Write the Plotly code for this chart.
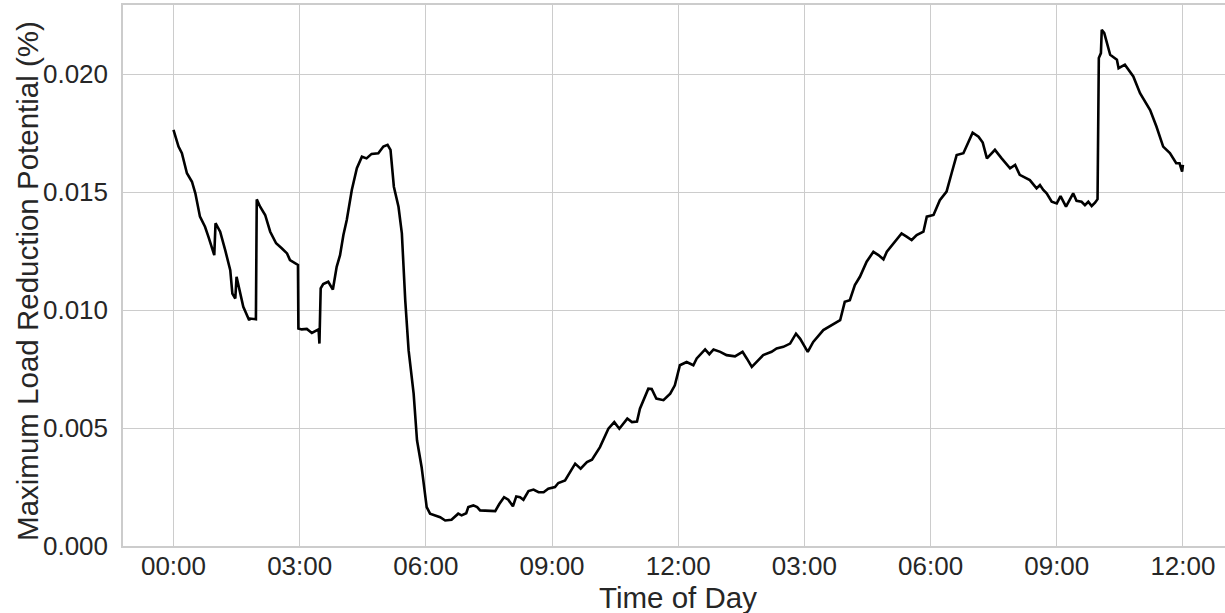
import plotly.graph_objects as go

# Time in hours since 00:00 and load reduction potential (%)
hours = [
    0.00, 0.12, 0.20, 0.32, 0.44, 0.52, 0.63, 0.75, 0.83, 0.97,
    1.00, 1.11, 1.23, 1.35, 1.40, 1.47, 1.50, 1.57, 1.66, 1.80,
    1.82, 1.96, 1.98, 2.06, 2.18, 2.30, 2.44, 2.58, 2.70, 2.77,
    2.96, 2.97, 3.05, 3.17, 3.29, 3.45, 3.47, 3.50, 3.56, 3.68,
    3.79, 3.88, 3.96, 4.04, 4.12, 4.24, 4.36, 4.48, 4.59, 4.71,
    4.87, 4.99, 5.09, 5.16, 5.24, 5.35, 5.43, 5.51, 5.59, 5.71,
    5.79, 5.90, 6.02, 6.10, 6.34, 6.46, 6.61, 6.77, 6.85, 6.96,
    7.01, 7.13, 7.22, 7.29, 7.49, 7.65, 7.75, 7.86, 7.96, 8.07,
    8.15, 8.24, 8.32, 8.44, 8.56, 8.68, 8.80, 8.91, 9.07, 9.15,
    9.31, 9.55, 9.68, 9.83, 9.95, 10.14, 10.34, 10.48, 10.60, 10.79,
    10.90, 11.02, 11.09, 11.29, 11.37, 11.48, 11.65, 11.81, 11.92, 12.04,
    12.20, 12.36, 12.44, 12.64, 12.74, 12.84, 13.00, 13.15, 13.35, 13.53,
    13.63, 13.75, 13.90, 14.02, 14.22, 14.34, 14.50, 14.66, 14.80, 14.90,
    15.08, 15.21, 15.45, 15.69, 15.85, 15.96, 16.08, 16.20, 16.32, 16.48,
    16.64, 16.76, 16.88, 16.96, 17.15, 17.31, 17.43, 17.55, 17.67, 17.83,
    17.91, 18.07, 18.22, 18.38, 18.50, 18.62, 18.78, 18.90, 19.00, 19.14,
    19.24, 19.34, 19.43, 19.53, 19.69, 19.89, 20.01, 20.12, 20.36, 20.52,
    20.60, 20.68, 20.76, 20.88, 21.00, 21.09, 21.22, 21.31, 21.39, 21.47,
    21.59, 21.67, 21.75, 21.83, 21.91, 21.97, 22.00, 22.05, 22.07, 22.13,
    22.27, 22.43, 22.47, 22.62, 22.82, 22.98, 23.22, 23.37, 23.53, 23.69,
    23.84, 23.92, 23.98, 24.00,
]

potential = [
    0.01764, 0.01693, 0.01665, 0.01580, 0.01544, 0.01495, 0.01396, 0.01353, 0.01311, 0.01233,
    0.01368, 0.01332, 0.01254, 0.01169, 0.01070, 0.01049, 0.01141, 0.01084, 0.01014, 0.00957,
    0.00964, 0.00961, 0.01469, 0.01438, 0.01403, 0.01332, 0.01283, 0.01261, 0.01240, 0.01212,
    0.01191, 0.00922, 0.00918, 0.00920, 0.00903, 0.00918, 0.00858, 0.01092, 0.01110, 0.01120,
    0.01087, 0.01183, 0.01233, 0.01318, 0.01382, 0.01509, 0.01601, 0.01650, 0.01643, 0.01662,
    0.01665, 0.01693, 0.01700, 0.01679, 0.01523, 0.01438, 0.01325, 0.01042, 0.00830, 0.00646,
    0.00448, 0.00334, 0.00165, 0.00137, 0.00122, 0.00108, 0.00111, 0.00137, 0.00130, 0.00139,
    0.00165, 0.00172, 0.00165, 0.00151, 0.00151, 0.00148, 0.00179, 0.00207, 0.00196, 0.00168,
    0.00210, 0.00207, 0.00196, 0.00233, 0.00239, 0.00228, 0.00228, 0.00243, 0.00250, 0.00267,
    0.00278, 0.00349, 0.00328, 0.00356, 0.00366, 0.00419, 0.00497, 0.00525, 0.00497, 0.00540,
    0.00525, 0.00527, 0.00582, 0.00667, 0.00666, 0.00625, 0.00618, 0.00646, 0.00681, 0.00766,
    0.00780, 0.00766, 0.00795, 0.00833, 0.00813, 0.00833, 0.00823, 0.00809, 0.00804, 0.00823,
    0.00795, 0.00759, 0.00787, 0.00809, 0.00823, 0.00837, 0.00844, 0.00858, 0.00900, 0.00878,
    0.00823, 0.00865, 0.00915, 0.00940, 0.00957, 0.01035, 0.01042, 0.01106, 0.01141, 0.01205,
    0.01247, 0.01233, 0.01215, 0.01247, 0.01289, 0.01325, 0.01311, 0.01297, 0.01318, 0.01332,
    0.01396, 0.01403, 0.01466, 0.01502, 0.01580, 0.01657, 0.01665, 0.01714, 0.01752, 0.01735,
    0.01710, 0.01643, 0.01660, 0.01679, 0.01643, 0.01601, 0.01615, 0.01573, 0.01551, 0.01516,
    0.01530, 0.01509, 0.01495, 0.01459, 0.01452, 0.01483, 0.01438, 0.01466, 0.01495, 0.01463,
    0.01459, 0.01445, 0.01459, 0.01441, 0.01455, 0.01470, 0.02068, 0.02089, 0.02188, 0.02174,
    0.02082, 0.02061, 0.02025, 0.02040, 0.01990, 0.01919, 0.01848, 0.01778, 0.01693, 0.01665,
    0.01622, 0.01622, 0.01587, 0.01615,
]

tick_hours = [0, 3, 6, 9, 12, 15, 18, 21, 24]
tick_labels = ["00:00", "03:00", "06:00", "09:00", "12:00", "03:00", "06:00", "09:00", "12:00"]
y_ticks = [0.0, 0.005, 0.010, 0.015, 0.020]
y_tick_labels = ["0.000", "0.005", "0.010", "0.015", "0.020"]
x_title = "Time of Day"
y_title = "Maximum Load Reduction Potential (%)"

FONT = "Liberation Sans, Arial, sans-serif"
GRID = "#cccccc"
TXT = "#262626"

fig = go.Figure()
fig.add_trace(go.Scatter(x=hours, y=potential, mode="lines",
                         line=dict(color="black", width=2.6), showlegend=False))

fig.update_layout(
    width=1225, height=613,
    margin=dict(l=123, r=0, t=5, b=67),
    paper_bgcolor="white", plot_bgcolor="white",
    font=dict(family=FONT, color=TXT),
)
fig.update_xaxes(
    range=[-1.2, 25.0], tickmode="array", tickvals=tick_hours, ticktext=tick_labels,
    showgrid=True, gridcolor=GRID, gridwidth=1, zeroline=False,
    showline=True, linecolor=GRID, linewidth=1.5, mirror=True,
    ticks="", tickfont=dict(size=26, color=TXT), automargin=False, ticklabelstandoff=-4,
)
fig.update_yaxes(
    range=[0, 0.02293], tickmode="array", tickvals=y_ticks, ticktext=y_tick_labels,
    showgrid=True, gridcolor=GRID, gridwidth=1, zeroline=False,
    showline=True, linecolor=GRID, linewidth=1.5,
    ticks="", tickfont=dict(size=26, color=TXT), automargin=False, ticklabelstandoff=8,
)
fig.add_annotation(text=x_title, xref="paper", yref="paper", x=0.5036, y=-0.0955,
                   xanchor="center", yanchor="middle", showarrow=False, borderpad=0,
                   font=dict(size=29.5, color=TXT))
fig.add_annotation(text=y_title, xref="paper", yref="paper", x=-0.0867, y=0.4908,
                   xanchor="center", yanchor="middle", textangle=-90, showarrow=False,
                   font=dict(size=29.5, color=TXT))

fig.write_html("out.html", config={"displayModeBar": False},
               post_script="document.body.style.margin='0';document.body.style.overflow='hidden';")
